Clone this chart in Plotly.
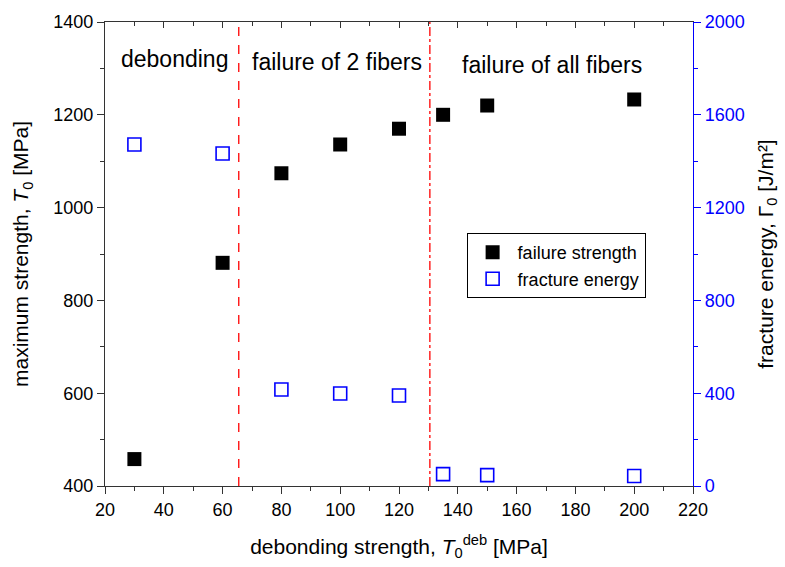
import plotly.graph_objects as go

x_deb = [30, 60, 80, 100, 120, 135, 150, 200]
strength = [458, 881, 1074, 1136, 1170, 1200, 1220, 1233]
energy = [1472, 1433, 416, 399, 390, 51, 47, 43]
boundaries = [65.5, 130.5]
regions = ["debonding", "failure of 2 fibers", "failure of all fibers"]
region_x = [43.6, 99, 172]
region_y = [1320, 1313, 1308]

FONT = "Liberation Sans, Arial, sans-serif"
BLUE = "#0000ff"

fig = go.Figure()
fig.add_trace(go.Scatter(
    x=x_deb, y=strength, mode="markers", name="failure strength",
    marker=dict(symbol="square", size=14, color="black"),
))
fig.add_trace(go.Scatter(
    x=x_deb, y=energy, mode="markers", name="fracture energy", yaxis="y2",
    marker=dict(symbol="square-open", size=13, color=BLUE, line=dict(width=1.6, color=BLUE)),
))

for b, d in zip(boundaries, ["dash", "dashdot"]):
    fig.add_shape(type="line", x0=b, x1=b, y0=0, y1=1, xref="x", yref="paper",
                  line=dict(color="red", width=1.3, dash=d))

for t, xx, yy in zip(regions, region_x, region_y):
    fig.add_annotation(x=xx, y=yy, text=t, showarrow=False, xref="x", yref="y",
                       font=dict(size=23, color="black", family=FONT))

axis_common = dict(showgrid=False, zeroline=False, showline=True, linecolor="#333",
                   linewidth=1.2, ticklen=7, tickwidth=1.2, tickcolor="#333",
                   tickfont=dict(size=18, color="black", family=FONT))

fig.update_layout(
    width=785, height=567,
    margin=dict(l=105, r=88, t=20, b=81),
    paper_bgcolor="white", plot_bgcolor="white",
    font=dict(family=FONT, color="black"),
    xaxis=dict(range=[20, 220], dtick=20, ticks="outside",
               minor=dict(dtick=10, ticks="outside", ticklen=4, tickcolor="#333"),
               title=dict(text="debonding strength, <i>T</i><sub>0</sub><sup>deb</sup> [MPa]",
                          font=dict(size=21, family=FONT), standoff=20),
               **axis_common),
    xaxis2=dict(range=[20, 220], dtick=20, ticks="inside", overlaying="x", side="top",
                showticklabels=False, anchor="y",
                minor=dict(dtick=10, ticks="inside", ticklen=4, tickcolor="#333"),
                showgrid=False, zeroline=False, showline=True, linecolor="#333",
                linewidth=1.2, ticklen=6, tickwidth=1.2, tickcolor="#333"),
    yaxis=dict(range=[400, 1400], dtick=200, ticks="outside",
               minor=dict(dtick=100, ticks="outside", ticklen=4, tickcolor="#333"),
               title=dict(text="maximum strength, <i>T</i><sub>0</sub> [MPa]",
                          font=dict(size=21, family=FONT), standoff=18),
               **axis_common),
    yaxis2=dict(range=[0, 2000], dtick=400, ticks="outside", overlaying="y", side="right",
                showgrid=False, zeroline=False, showline=True, linecolor=BLUE,
                linewidth=1.2, ticklen=7, tickwidth=1.2, tickcolor=BLUE,
                minor=dict(dtick=200, ticks="outside", ticklen=4, tickcolor=BLUE),
                tickfont=dict(size=18, color=BLUE, family=FONT),
                title=dict(text="fracture energy, Γ<sub>0</sub> [J/m²]",
                           font=dict(size=21, family=FONT, color="black"), standoff=14)),
    legend=dict(x=0.615, y=0.545, xanchor="left", yanchor="top",
                bordercolor="black", borderwidth=1, bgcolor="white",
                font=dict(size=18, family=FONT), itemwidth=40,
                tracegroupgap=0),
    showlegend=True,
)
fig.add_trace(go.Scatter(x=[None], y=[None], xaxis="x2", showlegend=False, hoverinfo="skip"))

fig.write_html("out.html")
